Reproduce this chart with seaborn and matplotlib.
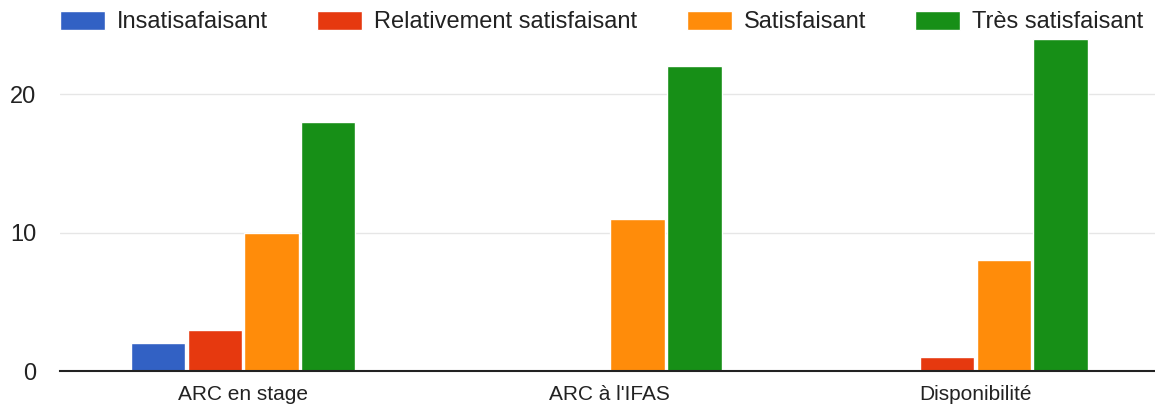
import pandas as pd
import matplotlib.pyplot as plt
import seaborn as sns

# Data
categories = ["ARC en stage", "ARC à l'IFAS", "Disponibilité"]
levels = ["Insatisafaisant", "Relativement satisfaisant", "Satisfaisant", "Très satisfaisant"]
insatisfaisant = [2, 0, 0]
relativement = [3, 0, 1]
satisfaisant = [10, 11, 8]
tres_satisfaisant = [18, 22, 24]

colors = ["#3261C4", "#E6390F", "#FF8C0A", "#178F17"]

rows = []
for level, vals in zip(levels, [insatisfaisant, relativement, satisfaisant, tres_satisfaisant]):
    for cat, v in zip(categories, vals):
        rows.append({"Catégorie": cat, "Niveau": level, "Nombre": v})
df = pd.DataFrame(rows)

sns.set_style("white")
plt.rcParams['font.family'] = ['Liberation Sans', 'DejaVu Sans']

fig = plt.figure(figsize=(11.55, 4.17), dpi=100)
ax = fig.add_axes([0.052, 0.110, 0.951, 0.797])

sns.barplot(data=df, x="Catégorie", y="Nombre", hue="Niveau", hue_order=levels,
            order=categories, palette=colors, width=0.62, gap=0.04,
            saturation=1, ax=ax, legend=True)

ax.set_ylim(0, 24)
ax.set_xlim(-0.5, 2.5)
ax.set_yticks([0, 10, 20])
ax.yaxis.grid(True, color="#e6e6e6", linewidth=1)
ax.set_axisbelow(True)
for s in ["top", "right", "left"]:
    ax.spines[s].set_visible(False)
ax.spines["bottom"].set_color("#222222")
ax.spines["bottom"].set_linewidth(1.5)
ax.tick_params(axis="y", length=0, pad=17, labelsize=17, labelcolor="#222222")
ax.tick_params(axis="x", length=0, pad=10, labelsize=15, labelcolor="#222222")
ax.set_xlabel("")
ax.set_ylabel("")

handles, labels = ax.get_legend_handles_labels()
ax.get_legend().remove()
fig.legend(handles, labels, loc="center", bbox_to_anchor=(0.521, 0.947), ncol=4,
           frameon=False, fontsize=17, handlelength=1.9, handleheight=0.85,
           handletextpad=0.5, columnspacing=2.1, labelcolor="#222222")

fig.savefig("out.png", dpi=100)
